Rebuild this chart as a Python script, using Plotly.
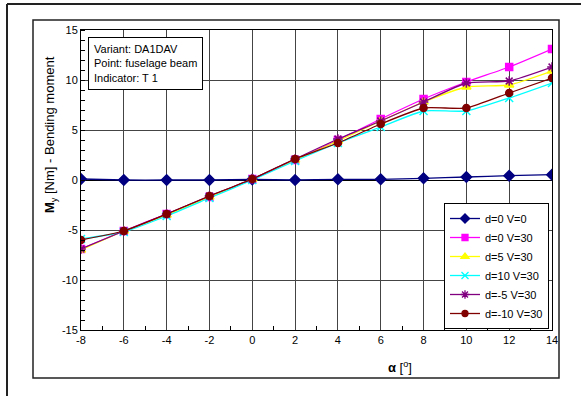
import plotly.graph_objects as go

alpha = [-8, -6, -4, -2, 0, 2, 4, 6, 8, 10, 12, 14]

series_names = ["d=0 V=0", "d=0 V=30", "d=5 V=30", "d=10 V=30", "d=-5 V=30", "d=-10 V=30"]
d0_v0   = [0.1, 0.0, 0.0, 0.0, 0.05, 0.0, 0.07, 0.07, 0.17, 0.3, 0.43, 0.53]
d0_v30  = [-6.9, -5.1, -3.4, -1.7, 0.1, 2.0, 4.0, 6.1, 8.1, 9.8, 11.3, 13.1]
d5_v30  = [-7.0, -5.1, -3.5, -1.7, 0.1, 2.0, 3.9, 5.9, 7.8, 9.3, 9.5, 10.9]
d10_v30 = [-5.9, -5.2, -3.6, -1.8, 0.0, 1.9, 3.7, 5.3, 6.9, 6.9, 8.2, 9.7]
dm5_v30 = [-6.9, -5.1, -3.4, -1.6, 0.1, 2.1, 4.1, 5.9, 7.8, 9.7, 9.9, 11.3]
dm10_v30 = [-6.0, -5.1, -3.4, -1.6, 0.1, 2.1, 3.7, 5.6, 7.2, 7.2, 8.7, 10.2]

x_tickvals = [-8, -6, -4, -2, 0, 2, 4, 6, 8, 10, 12, 14]
x_ticktext = ["-8", "-6", "-4", "-2", "0", "2", "4", "6", "8", "10", "12", "14"]
y_tickvals = [-15, -10, -5, 0, 5, 10, 15]
y_ticktext = ["-15", "-10", "-5", "0", "5", "10", "15"]

colors = ["#000080", "#FF00FF", "#FFFF00", "#00FFFF", "#800080", "#800000"]
symbols = ["diamond", "square", "triangle-up", "x-thin-open", "asterisk-open", "circle"]
sizes = [8, 7, 8, 8, 8, 7]
values = [d0_v0, d0_v30, d5_v30, d10_v30, dm5_v30, dm10_v30]

W, H = 581, 396
L, R, T, B = 81, 552, 30, 330
pw, ph = R - L, B - T

def px(x):
    return (x - L) / pw

def py(y):
    return (B - y) / ph

fig = go.Figure()
for name, vals, c, s, sz in zip(series_names, values, colors, symbols, sizes):
    fig.add_trace(go.Scatter(
        x=alpha, y=vals, name=name, mode="lines+markers", showlegend=False,
        line=dict(color=c, width=1.3, shape="spline", smoothing=0.5),
        marker=dict(symbol=s, size=sz, color=c, line=dict(color=c, width=1.5)),
    ))
# legend entries (smaller markers, as in the reference legend)
for name, c, s, sz in zip(series_names, colors, symbols, sizes):
    fig.add_trace(go.Scatter(
        x=[None], y=[None], name=name, mode="lines+markers",
        line=dict(color=c, width=1.3),
        marker=dict(symbol=s, size=sz - 1, color=c, line=dict(color=c, width=1.3)),
    ))

font = "Arial, Liberation Sans, sans-serif"

fig.update_layout(
    width=W, height=H,
    margin=dict(l=L, r=W - R, t=T, b=H - B, autoexpand=False),
    paper_bgcolor="white", plot_bgcolor="white",
    font=dict(family=font, size=11, color="black"),
    showlegend=True,
    legend=dict(x=px(444), y=py(203), xanchor="left", yanchor="top",
                bgcolor="white", bordercolor="black", borderwidth=1,
                font=dict(size=11), tracegroupgap=0, itemwidth=30),
    xaxis=dict(range=[-8, 14], tickvals=x_tickvals, ticktext=x_ticktext,
               showgrid=True, gridcolor="#444", gridwidth=1, automargin=False,
               zeroline=False, showline=True, linecolor="black", linewidth=1, mirror=True,
               ticks="", minor=dict(tickvals=list(range(-7, 14, 2)), ticks="inside",
                                   ticklen=4, tickcolor="black", showgrid=False),
               tickfont=dict(size=11)),
    yaxis=dict(range=[-15, 15], tickvals=y_tickvals, ticktext=y_ticktext,
               showgrid=True, gridcolor="#444", gridwidth=1, automargin=False,
               zeroline=True, zerolinecolor="black", zerolinewidth=1,
               showline=True, linecolor="black", linewidth=1, mirror=True,
               ticks="", minor=dict(dtick=1, ticks="inside", ticklen=4,
                                   tickcolor="black", showgrid=False),
               tickfont=dict(size=11)),
)

# outer frame lines
fig.add_shape(type="line", xref="paper", yref="paper", x0=px(7), x1=px(582), y0=py(4), y1=py(4),
              line=dict(color="#222", width=2))
fig.add_shape(type="line", xref="paper", yref="paper", x0=px(7), x1=px(7), y0=py(4), y1=py(397),
              line=dict(color="#222", width=2))
# inner chart box
fig.add_shape(type="rect", xref="paper", yref="paper", x0=px(33), x1=px(559), y0=py(20), y1=py(378),
              line=dict(color="#222", width=1.5), layer="below")

fig.add_annotation(xref="paper", yref="paper", x=px(50), y=py(135),
                   text="<b>M</b><sub>y</sub> [Nm] - Bending moment", textangle=-90,
                   showarrow=False, font=dict(size=13), xanchor="center", yanchor="middle")

fig.add_annotation(xref="paper", yref="paper", x=px(400), y=py(367),
                   text="<b>α</b> [<sup>o</sup>]", showarrow=False,
                   font=dict(size=13), xanchor="center", yanchor="middle")

fig.add_annotation(xref="paper", yref="paper", x=px(88), y=py(37),
                   text="Variant: DA1DAV<br>Point: fuselage beam<br>Indicator: T 1",
                   showarrow=False, align="left", xanchor="left", yanchor="top",
                   bgcolor="white", bordercolor="black", borderwidth=1, borderpad=5,
                   font=dict(size=11))

fig.write_html("out.html", config={"displayModeBar": False},
               post_script="document.body.style.margin='0';document.body.style.padding='0';")
